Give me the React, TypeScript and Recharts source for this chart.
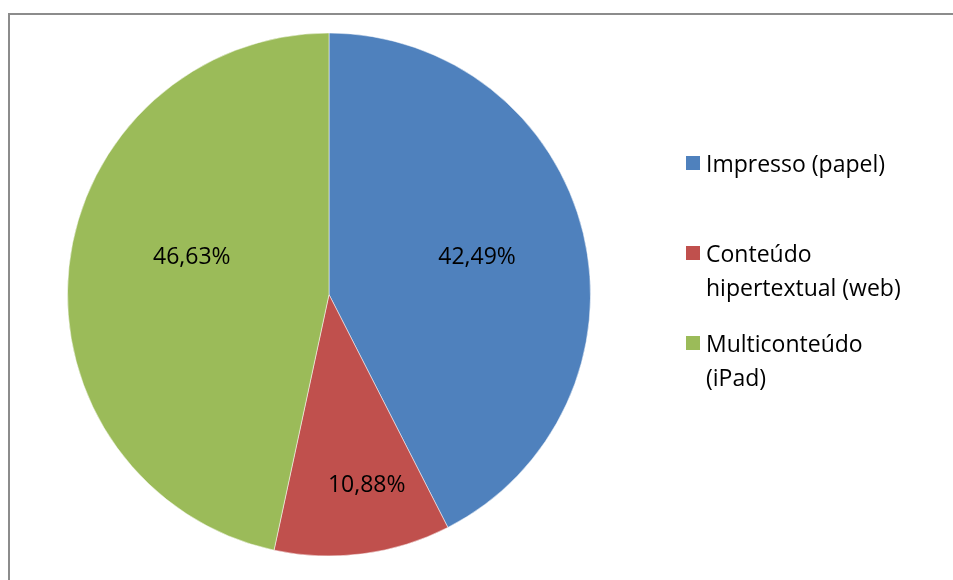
import React from 'react';
import { PieChart, Pie, Cell, Legend } from 'recharts';

const categories = ['Impresso (papel)', 'Conteúdo\nhipertextual (web)', 'Multiconteúdo\n(iPad)'];
const shares = [42.49, 10.88, 46.63];
const sliceColors = ['#4F81BD', '#C0504D', '#9BBB59'];
// label placement: fraction of the radius and angle nudge (degrees) per slice
const labelRadius = [0.585, 0.74, 0.545];
const labelAngleShift = [1, 3.8, -9.7];

const data = categories.map((name, i) => ({ name, value: shares[i] }));

const FONT = '"Open Sans", Lato, sans-serif';
const RAD = Math.PI / 180;

const renderLabel = (props: any) => {
  const { cx, cy, midAngle, outerRadius, index, value } = props;
  const r = outerRadius * labelRadius[index];
  const a = (midAngle + labelAngleShift[index]) * RAD;
  const x = cx + r * Math.cos(-a);
  const y = cy + r * Math.sin(-a);
  return (
    <text x={x} y={y + 8} fill="#000" fontSize={23} fontFamily={FONT} textAnchor="middle">
      {value.toFixed(2).replace('.', ',')}%
    </text>
  );
};

const LegendContent = () => (
  <div style={{ fontFamily: FONT, fontSize: 23, lineHeight: '34px', color: '#000' }}>
    {categories.map((name, i) => (
      <div key={name} style={{ display: 'flex', height: 90 }}>
        <div
          style={{
            width: 14,
            height: 14,
            marginTop: 10,
            marginRight: 6,
            background: sliceColors[i],
            flexShrink: 0,
          }}
        />
        <div style={{ whiteSpace: 'pre' }}>{name}</div>
      </div>
    ))}
  </div>
);

const App: React.FC = () => {
  return (
    <div style={{ position: 'relative', width: 937, height: 564 }}>
      <div
        style={{
          position: 'fixed',
          left: 8,
          top: 13,
          right: -20,
          bottom: -20,
          borderTop: '2px solid #8c8c8c',
          borderLeft: '2px solid #8c8c8c',
        }}
      />
      <PieChart width={937} height={564} style={{ position: 'absolute', left: 0, top: 0 }}>
        <Pie
          data={data}
          dataKey="value"
          nameKey="name"
          cx={316}
          cy={281.5}
          outerRadius={261.5}
          startAngle={90}
          endAngle={-270}
          stroke="#ffffff"
          strokeWidth={0.5}
          label={renderLabel}
          labelLine={false}
          isAnimationActive={false}
        >
          {data.map((d, i) => (
            <Cell key={d.name} fill={sliceColors[i]} />
          ))}
        </Pie>
        <Legend
          content={<LegendContent />}
          wrapperStyle={{ position: 'absolute', left: 678, top: 138, width: 255 }}
        />
      </PieChart>
    </div>
  );
};

export default App;
